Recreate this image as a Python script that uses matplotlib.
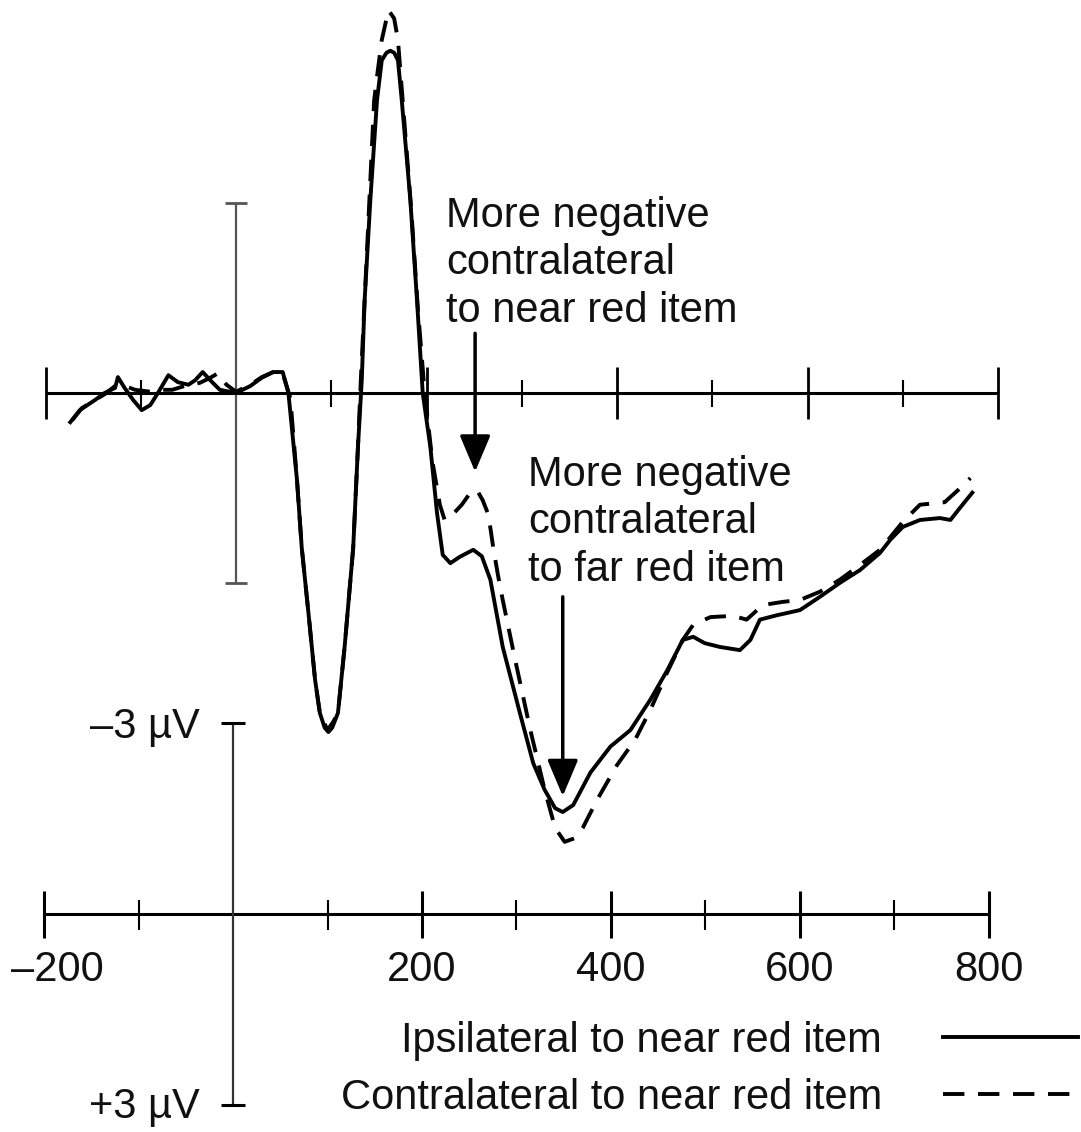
import matplotlib
matplotlib.use("Agg")
import matplotlib.pyplot as plt

# waveform data: time in ms, amplitude in microvolts
# (negative plotted up, as in the original)
solid_t = [-174, -164, -148, -138, -127, -124, -117, -108, -99, -90, -82, -71,
           -61, -50, -43, -35, -27, -17, 0, 15, 27, 39, 49, 55, 64, 69, 76, 83,
           88, 93, 97, 101, 107, 114, 123, 128, 132, 135, 141, 148, 153, 158,
           162, 166, 170, 174, 183, 190, 196, 204, 211, 217, 225, 235, 249, 258,
           267, 280, 298, 312, 324, 335, 343, 354, 372, 393, 414, 435, 453, 469,
           480, 492, 508, 529, 540, 550, 568, 592, 613, 634, 655, 676, 687, 700,
           718, 739, 750, 760, 773]
solid_v = [0.46, 0.27, 0.11, 0.0, -0.08, -0.25, -0.08, 0.11, 0.27, 0.19, 0.0,
           -0.28, -0.17, -0.13, -0.20, -0.33, -0.20, -0.05, 0.0, -0.11, -0.24,
           -0.33, -0.33, 0.0, 1.37, 2.44, 3.46, 4.52, 5.04, 5.27, 5.34, 5.27,
           5.04, 4.0, 2.44, 0.85, -0.2, -1.46, -3.04, -4.61, -5.24, -5.36,
           -5.39, -5.36, -5.24, -4.61, -3.04, -1.46, 0.0, 0.85, 1.89, 2.55, 2.68,
           2.58, 2.47, 2.57, 2.94, 4.0, 5.04, 5.83, 6.25, 6.54, 6.6, 6.49, 5.98,
           5.57, 5.31, 4.83, 4.36, 3.89, 3.84, 3.94, 4.0, 4.05, 3.89, 3.57, 3.5,
           3.42, 3.21, 2.99, 2.79, 2.52, 2.31, 2.11, 2.0, 1.97, 2.0, 1.81, 1.57]

dash_t = [-172, -162, -148, -138, -127, -120, -106, -90, -80, -67, -54, -38,
          -27, -19, -10, 0, 15, 27, 39, 49, 57, 64, 69, 76, 83, 88, 96, 102,
          107, 114, 123, 128, 131, 135, 140, 145, 149, 153, 160, 166, 170, 175,
          184, 191, 198, 206, 214, 219, 227, 237, 246, 253, 259, 265, 270, 275,
          280, 293, 309, 324, 335, 345, 356, 364, 379, 400, 419, 435, 453, 469,
          480, 498, 522, 536, 553, 574, 592, 613, 634, 655, 676, 687, 700, 718,
          744, 758, 771]
dash_v = [0.43, 0.24, 0.11, 0.02, -0.11, -0.13, -0.05, -0.02, -0.05, -0.05,
          -0.11, -0.16, -0.24, -0.31, -0.13, -0.02, -0.13, -0.25, -0.33, -0.31,
          0.08, 1.37, 2.44, 3.46, 4.52, 5.04, 5.31, 5.18, 5.04, 4.0, 2.44, 0.85,
          -0.2, -1.46, -3.04, -4.61, -5.1, -5.56, -6.03, -5.9, -5.56, -4.6,
          -2.88, -1.31, -0.02, 1.06, 1.76, 2.0, 1.92, 1.76, 1.57, 1.53, 1.69,
          1.92, 2.43, 2.87, 3.26, 4.2, 5.31, 6.25, 6.85, 7.07, 7.01, 6.85, 6.41,
          5.86, 5.46, 4.99, 4.39, 3.89, 3.65, 3.53, 3.51, 3.57, 3.34, 3.29, 3.26,
          3.13, 2.94, 2.71, 2.47, 2.27, 2.03, 1.76, 1.72, 1.53, 1.34]

major_ticks = [-200, 200, 400, 600, 800]
minor_ticks = [-100, 100, 300, 500, 700]
tick_labels = ["\u2013200", "200", "400", "600", "800"]
scale_uv = 3

series_labels = ["Ipsilateral to near red item", "Contralateral to near red item"]
note_near = "More negative\ncontralateral\nto near red item"
note_far = "More negative\ncontralateral\nto far red item"
arrow_near = (251, -0.94, 1.24)   # time, start, tip
arrow_far = (343, 3.21, 6.35)

W, H = 1081, 1132
FS = 30
INK = "#111111"

plt.rcParams["font.family"] = ["Liberation Sans", "DejaVu Sans"]
fig = plt.figure(figsize=(W / 100, H / 100), dpi=100)

# top panel: waveforms
ax = fig.add_axes([0, 0, 1, 1])
ax.set_xlim(-247.8, 887.1)
ax.set_ylim(11.64, -6.19)
ax.axis("off")

# bottom panel: the reference axes
ax2 = fig.add_axes([0, 0, 1, 1])
ax2.set_xlim(-246.6, 897.4)
ax2.set_ylim(3.42, -14.35)
ax2.axis("off")

ax.hlines(0, -200, 800, color="k", lw=2.2)
ax.vlines(major_ticks, -0.41, 0.41, color="k", lw=2.0)
ax.vlines(minor_ticks, -0.2, 0.22, color="k", lw=1.5)
ax.vlines(0, -scale_uv, scale_uv, color="#555555", lw=1.6)
ax.hlines([-scale_uv, scale_uv], -11.5, 11.5, color="#555555", lw=2.0)

ax.plot(solid_t, solid_v, color="k", lw=2.8, solid_joinstyle="round",
        label=series_labels[0])
ax.plot(dash_t, dash_v, color="k", lw=2.8, ls=(0, (5.5, 3.5)),
        label=series_labels[1])

for t, y0, y1 in (arrow_near, arrow_far):
    ax.annotate("", xy=(t, y1), xytext=(t, y0),
                arrowprops=dict(arrowstyle="-|>,head_length=0.9,head_width=0.38",
                                lw=2.5, color="k", shrinkA=0, shrinkB=0,
                                mutation_scale=25))

fig.text(446 / W, 1 - 196 / H, note_near, ha="left", va="top",
         fontsize=FS, linespacing=1.24, color=INK)
fig.text(528 / W, 1 - 455 / H, note_far, ha="left", va="top",
         fontsize=FS, linespacing=1.24, color=INK)

ax2.hlines(0, -200, 800, color="k", lw=2.2)
ax2.vlines(major_ticks, -0.37, 0.37, color="k", lw=2.2)
ax2.vlines(minor_ticks, -0.22, 0.25, color="k", lw=1.5)
ax2.vlines(0, -scale_uv, scale_uv, color="#333333", lw=1.6)
ax2.hlines([-scale_uv, scale_uv], -13, 13, color="k", lw=2.2)

for v, lbl in zip(major_ticks, tick_labels):
    dx = 13 if v < 0 else 0
    ax2.annotate(lbl, (v, 0), xytext=(dx, -36), textcoords="offset pixels",
                 ha="center", va="top", fontsize=FS, color=INK)

ax2.annotate("\u20133 \u00b5V", (0, -scale_uv), xytext=(-33, -15),
             textcoords="offset pixels", ha="right", va="baseline",
             fontsize=FS, color=INK)
ax2.annotate("+3 \u00b5V", (0, scale_uv), xytext=(-33, -13),
             textcoords="offset pixels", ha="right", va="baseline",
             fontsize=FS, color=INK)

ax.legend(loc="upper right", bbox_to_anchor=(1078 / W, 1 - 1021 / H),
          bbox_transform=fig.transFigure, frameon=False, markerfirst=False,
          fontsize=FS, handlelength=3.25, handletextpad=1.45, labelspacing=0.4,
          borderpad=0, borderaxespad=0, labelcolor=INK)

fig.savefig("out.png", dpi=100)
